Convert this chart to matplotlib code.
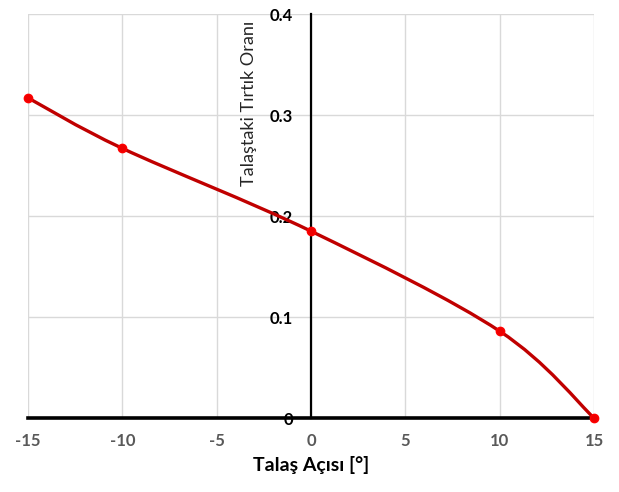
import numpy as np
import matplotlib.pyplot as plt
from matplotlib.path import Path
from matplotlib.patches import PathPatch

plt.rcParams['font.family'] = ['Lato', 'DejaVu Sans']
plt.rcParams['axes.unicode_minus'] = False

# data
angle = [-15, -10, 0, 10, 15]
ratio = [0.317, 0.267, 0.185, 0.086, 0.0]
xticks = [-15, -10, -5, 0, 5, 10, 15]
yticks = [0, 0.1, 0.2, 0.3, 0.4]
yticklabels = ['0', '0.1', '0.2', '0.3', '0.4']

def smooth_path(ax, xs, ys):
    # Excel-like smoothed line: cubic Bezier segments (Catmull-Rom, 1/6 tangents)
    # built in display space so the curve shape matches the screen aspect
    pts = ax.transData.transform(np.column_stack([xs, ys]))
    n = len(pts)
    verts = [pts[0]]
    codes = [Path.MOVETO]
    for i in range(n - 1):
        p0 = pts[max(i - 1, 0)]
        p1 = pts[i]
        p2 = pts[i + 1]
        p3 = pts[min(i + 2, n - 1)]
        c1 = p1 + (p2 - p0) / 6.0
        c2 = p2 - (p3 - p1) / 6.0
        verts += [c1, c2, p2]
        codes += [Path.CURVE4] * 3
    verts = ax.transData.inverted().transform(np.array(verts))
    return Path(verts, codes)

fig = plt.figure(figsize=(6.19, 4.92), dpi=100)
ax = fig.add_axes([0.0452, 0.1504, 0.9144, 0.8211])
ax.set_xlim(-15, 15)
ax.set_ylim(0, 0.4)

ax.set_xticks(xticks)
ax.set_yticks(yticks)
ax.set_yticklabels(yticklabels)
ax.grid(True, color='#D9D9D9', lw=1.0)
ax.set_axisbelow(True)

for s in ['top', 'right']:
    ax.spines[s].set_visible(False)
ax.spines['left'].set_position(('data', 0))
ax.spines['left'].set_linewidth(1.6)
ax.spines['bottom'].set_linewidth(2.6)
ax.spines['left'].set_zorder(1.5)
ax.spines['bottom'].set_zorder(1.5)

ax.tick_params(axis='both', length=0)
ax.tick_params(axis='x', pad=11, labelsize=12, labelcolor='#595959')
ax.tick_params(axis='y', pad=13, labelsize=12, labelcolor='black')
for lab in ax.get_xticklabels() + ax.get_yticklabels():
    lab.set_fontweight('bold')

ax.set_xlabel('Talaş Açısı [°]', fontsize=14, fontweight='bold', labelpad=5)
ax.text(-3.3, 0.393, 'Talaştaki Tırtık Oranı', rotation=90, ha='center', va='top',
        fontsize=13, color='#262626')

ax.add_patch(PathPatch(smooth_path(ax, angle, ratio), fill=False,
                       edgecolor='#C00000', lw=2.4, zorder=3, clip_on=False))
ax.plot(angle, ratio, 'o', color='#EE0000', mec='#FF0000', ms=6, zorder=4,
        clip_on=False)

fig.savefig('out.png', dpi=100)
